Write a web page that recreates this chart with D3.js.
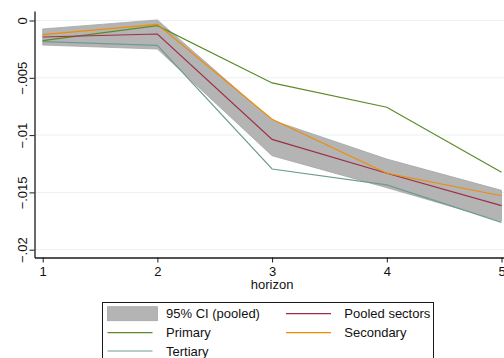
<!DOCTYPE html>
<html>
<head>
<meta charset="utf-8">
<script src="https://cdn.jsdelivr.net/npm/d3@7"></script>
<style>
  html, body { margin: 0; padding: 0; background: #fff; }
  svg { display: block; font-family: "Liberation Sans", Arial, sans-serif; }
</style>
</head>
<body>
<svg id="chart" width="504" height="358"></svg>
<script>
// Horizons on the x axis
const horizons = [1, 2, 3, 4, 5];

// Pooled-sector estimate and its 95% confidence band
const pooled   = [-0.00144, -0.00118, -0.01037, -0.01333, -0.01616];
const ciUpper  = [-0.00074,  0.00005, -0.00870, -0.01209, -0.01482];
const ciLower  = [-0.00214, -0.00249, -0.01180, -0.01459, -0.01750];

// Sector-specific estimates
const primary   = [-0.00176, -0.00045, -0.00545, -0.00757, -0.01325];
const secondary = [-0.00124, -0.00033, -0.00862, -0.01333, -0.01529];
const tertiary  = [-0.00185, -0.00217, -0.01296, -0.01435, -0.01761];

// Axis ticks
const yTicks = [0, -0.005, -0.01, -0.015, -0.02];
const yTickLabels = ["0", "\u2212.005", "\u2212.01", "\u2212.015", "\u2212.02"];
const xTickLabels = ["1", "2", "3", "4", "5"];

// Legend entries
const legendItems = [
  { label: "95% CI (pooled)", kind: "area", color: "#b4b4b4" },
  { label: "Pooled sectors",  kind: "line", color: "#9e2f48" },
  { label: "Primary",         kind: "line", color: "#5a8a28" },
  { label: "Secondary",       kind: "line", color: "#f08c00" },
  { label: "Tertiary",        kind: "line", color: "#6f9b91" }
];

const svg = d3.select("#chart");

// Plot region (the axes run along its left and bottom edges)
const plot = { left: 34.5, right: 512, top: 11, bottom: 257.5 };

const x = d3.scaleLinear().domain([1, 5]).range([42.7, 501.5]);
const y = d3.scaleLinear().domain([-0.02, 0]).range([249.7, 20.5]);

// Horizontal grid lines
svg.append("g")
  .selectAll("line")
  .data(yTicks)
  .join("line")
  .attr("x1", plot.left).attr("x2", plot.right)
  .attr("y1", d => y(d)).attr("y2", d => y(d))
  .attr("stroke", "#e9f1f2").attr("stroke-width", 1);

// Confidence band
const band = horizons.map((h, i) => ({ h, lo: ciLower[i], hi: ciUpper[i] }));
svg.append("path")
  .datum(band)
  .attr("d", d3.area().x(d => x(d.h)).y0(d => y(d.lo)).y1(d => y(d.hi)))
  .attr("fill", "#b4b4b4")
  .attr("stroke", "#a6a6a6")
  .attr("stroke-width", 0.8);

// Estimate lines
const series = [
  { values: primary,   color: legendItems[2].color },
  { values: tertiary,  color: legendItems[4].color },
  { values: pooled,    color: legendItems[1].color },
  { values: secondary, color: legendItems[3].color }
];
const lineGen = d3.line().x((d, i) => x(horizons[i])).y(d => y(d));
svg.append("g")
  .selectAll("path")
  .data(series)
  .join("path")
  .attr("d", d => lineGen(d.values))
  .attr("fill", "none")
  .attr("stroke", d => d.color)
  .attr("stroke-width", 1.2);

// Y axis
const yAxisScale = y.copy().domain([y.invert(plot.bottom), y.invert(plot.top)])
  .range([plot.bottom, plot.top]);
const yAxis = svg.append("g")
  .attr("transform", `translate(${plot.left},0)`)
  .call(d3.axisLeft(yAxisScale)
    .tickValues(yTicks)
    .tickFormat((d, i) => yTickLabels[i])
    .tickSize(5)
    .tickSizeOuter(0));
yAxis.select(".domain").attr("stroke", "#1a1a1a").attr("stroke-width", 1.3);
yAxis.selectAll(".tick line").attr("stroke", "#1a1a1a").attr("stroke-width", 1);
yAxis.selectAll(".tick text")
  .attr("x", null).attr("dy", null)
  .attr("transform", "translate(-8,0) rotate(-90)")
  .attr("text-anchor", "middle")
  .attr("fill", "#111")
  .style("font-size", "13px");

// X axis
const xAxisScale = x.copy().domain([x.invert(plot.left), x.invert(plot.right)])
  .range([plot.left, plot.right]);
const xAxis = svg.append("g")
  .attr("transform", `translate(0,${plot.bottom})`)
  .call(d3.axisBottom(xAxisScale)
    .tickValues(horizons)
    .tickFormat((d, i) => xTickLabels[i])
    .tickSize(5)
    .tickSizeOuter(0));
xAxis.select(".domain").attr("stroke", "#1a1a1a").attr("stroke-width", 1.3);
xAxis.selectAll(".tick line").attr("stroke", "#1a1a1a").attr("stroke-width", 1);
xAxis.selectAll(".tick text")
  .attr("y", 18).attr("dy", null)
  .attr("fill", "#111")
  .style("font-size", "13px");

// X axis title
svg.append("text")
  .attr("x", x(3))
  .attr("y", 289)
  .attr("text-anchor", "middle")
  .attr("fill", "#111")
  .style("font-size", "13px")
  .text("horizon");

// Legend
const legend = svg.append("g");
legend.append("rect")
  .attr("x", 102.5).attr("y", 302.5)
  .attr("width", 331).attr("height", 70)
  .attr("fill", "#fff")
  .attr("stroke", "#1a1a1a").attr("stroke-width", 1);

const colX = [107.5, 286];
const rowY = [313.7, 332.7, 351];
const keyW = 50;
const items = legend.selectAll("g.item")
  .data(legendItems)
  .join("g")
  .attr("class", "item")
  .attr("transform", (d, i) => `translate(${colX[i % 2]},${rowY[Math.floor(i / 2)]})`);

items.filter(d => d.kind === "area").append("rect")
  .attr("x", 0).attr("y", -7)
  .attr("width", keyW).attr("height", 14)
  .attr("fill", d => d.color)
  .attr("stroke", "#a6a6a6").attr("stroke-width", 0.8);

items.filter(d => d.kind === "line").append("line")
  .attr("x1", 0).attr("x2", keyW - 5)
  .attr("y1", 0).attr("y2", 0)
  .attr("stroke", d => d.color)
  .attr("stroke-width", 1.2);

items.append("text")
  .attr("x", (d, i) => i % 2 === 0 ? 58.5 : 58.3)
  .attr("y", 4.7)
  .attr("fill", "#111")
  .style("font-size", "13px")
  .text(d => d.label);
</script>
</body>
</html>
